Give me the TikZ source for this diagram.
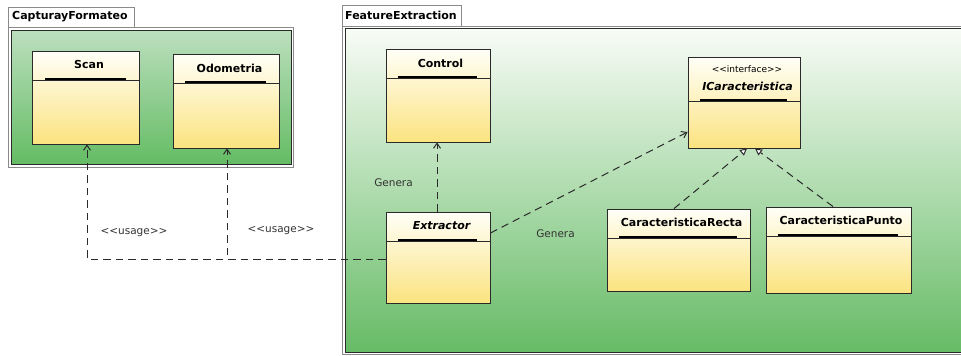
\documentclass[tikz,border=0pt]{standalone}
\usepackage{fontspec}
\setmainfont{DejaVu Sans}
\usetikzlibrary{arrows.meta}
\definecolor{clsTop}{HTML}{FFFFF8}
\definecolor{clsBot}{HTML}{FBE37F}
\definecolor{pkgTopA}{HTML}{BCDFBE}
\definecolor{pkgBotA}{HTML}{64BC64}
\definecolor{pkgTopB}{HTML}{F8FCF6}
\definecolor{pkgBotB}{HTML}{66BB66}
\definecolor{frameGrey}{HTML}{8A8A8A}
\definecolor{lineDark}{HTML}{2A2A2A}
\tikzset{
  cls/.style={draw=lineDark, line width=0.9pt, top color=clsTop, bottom color=clsBot, inner sep=0pt},
  clsname/.style={font=\fontsize{11}{13}\selectfont\bfseries, inner sep=0pt},
  divider/.style={draw=lineDark, line width=0.8pt},
  thickbar/.style={draw=black, line width=2.2pt},
  tab/.style={draw=frameGrey, fill=white, line width=0.8pt},
  tabtext/.style={font=\fontsize{11}{13}\selectfont\bfseries, anchor=west, inner sep=0pt},
  pkginner/.style={draw=lineDark, line width=0.9pt},
  pkgouter/.style={draw=frameGrey, line width=0.8pt},
  dep/.style={draw=lineDark, line width=1pt, dash pattern=on 7.5pt off 5pt, -{Straight Barb[length=5pt,width=7pt]}},
  real/.style={draw=lineDark, line width=1pt, dash pattern=on 7.5pt off 5pt, -{Triangle[open,length=7pt,width=7pt,fill=white]}},
  lbl/.style={font=\fontsize{10.5}{12}\selectfont, text=black!80, inner sep=0pt},
}
\begin{document}
\begin{tikzpicture}[x=1pt,y=-1pt]
\useasboundingbox (0,0) rectangle (961,356);
% ---- package CapturayFormateo ----
\path[tab] (8,7) rectangle (134,27);
\node[tabtext] (tabA) at (12,17) {CapturayFormateo};
\path[pkgouter] (8,27) rectangle (293,167);
\shade[top color=pkgTopA, bottom color=pkgBotA] (11,30) rectangle (291,164);
\path[pkginner] (11,30) rectangle (291,164);
% ---- package FeatureExtraction ----
\path[tab] (342,5) rectangle (461,26);
\node[tabtext] (tabB) at (345,15.5) {FeatureExtraction};
\path[pkgouter] (342,26) rectangle (975,354);
\shade[top color=pkgTopB, bottom color=pkgBotB] (345,28.5) rectangle (972,352);
\path[pkginner] (345,28.5) rectangle (972,352);

% ---- classes ----
% Scan
\node[cls, minimum width=107pt, minimum height=93pt] (scan) at (85.5,97.5) {};
\node[clsname] (scanT) at (89,64) {Scan};
\draw[divider] (32,80) -- (139,80);
\draw[thickbar] (45,78.6) -- (126,78.6);
% Odometria
\node[cls, minimum width=106pt, minimum height=94pt] (odo) at (226,101) {};
\node[clsname] (odoT) at (229.5,68) {Odometria};
\draw[divider] (173,83) -- (279,83);
\draw[thickbar] (185,81.6) -- (266,81.6);
% Control
\node[cls, minimum width=104pt, minimum height=93pt] (control) at (438,95.5) {};
\node[clsname] (controlT) at (440.5,63) {Control};
\draw[divider] (386,78) -- (490,78);
\draw[thickbar] (398,76.6) -- (477,76.6);
% ICaracteristica
\node[cls, minimum width=112pt, minimum height=91pt] (icar) at (744,102.5) {};
\node[font=\fontsize{9}{11}\selectfont, inner sep=0pt] (icarS) at (747,69) {<{}<interface>{}>};
\node[clsname, font=\fontsize{11}{13}\selectfont\bfseries\itshape] (icarT) at (747.5,86) {ICaracteristica};
\draw[divider] (688,101) -- (800,101);
\draw[thickbar] (700,99.6) -- (787,99.6);
% Extractor
\node[cls, minimum width=104pt, minimum height=91pt] (extr) at (438,257.5) {};
\node[clsname, font=\fontsize{11}{13}\selectfont\bfseries\itshape] (extrT) at (441.5,226) {Extractor};
\draw[divider] (386,241) -- (490,241);
\draw[thickbar] (398,239.6) -- (477,239.6);
% CaracteristicaRecta
\node[cls, minimum width=143pt, minimum height=82pt] (recta) at (678.5,250) {};
\node[clsname] (rectaT) at (681.5,222) {CaracteristicaRecta};
\draw[divider] (607,238) -- (750,238);
\draw[thickbar] (619,236.6) -- (737,236.6);
% CaracteristicaPunto
\node[cls, minimum width=145pt, minimum height=86pt] (punto) at (838.5,250) {};
\node[clsname] (puntoT) at (841,220) {CaracteristicaPunto};
\draw[divider] (766,236) -- (911,236);
\draw[thickbar] (778,234.6) -- (898,234.6);

% ---- connectors ----
\draw[dep] ([yshift=-1.5pt]extr.west) -| ([xshift=1.5pt]scan.south);
\draw[dep] ([yshift=-1.5pt]extr.west) -| ([xshift=1pt]odo.south);
\draw[dep] ([xshift=-1pt]extr.north) -- ([xshift=-1pt]control.south);
\draw[dep] ([yshift=24.5pt]extr.east) -- ([yshift=-29.5pt]icar.west);
\draw[real] ([xshift=-4.5pt]recta.north) -- ([xshift=3pt]icar.south);
\draw[real] ([xshift=-5.5pt]punto.north) -- ([xshift=11pt]icar.south);

% ---- labels ----
\node[lbl] (u1) at (134,233) {<{}<usage>{}>};
\node[lbl] (u2) at (281,231) {<{}<usage>{}>};
\node[lbl] (g1) at (393.5,183) {Genera};
\node[lbl] (g2) at (555.5,234) {Genera};
\end{tikzpicture}
\end{document}
